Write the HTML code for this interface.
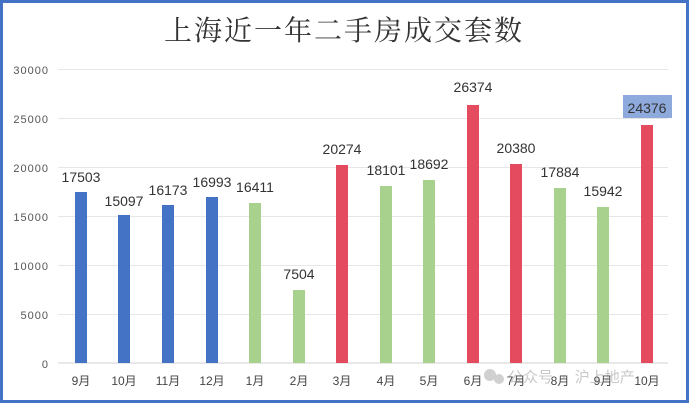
<!DOCTYPE html>
<html><head><meta charset="utf-8"><style>
html,body{margin:0;padding:0;background:#fff}
svg{display:block}
</style></head><body>
<svg width="689" height="403" viewBox="0 0 689 403" xmlns="http://www.w3.org/2000/svg">
<rect x="1.5" y="1.5" width="686" height="400" fill="#fff" stroke="#4472C4" stroke-width="3"/>
<text x="344" y="40" text-anchor="middle" font-family="'Noto Serif CJK SC','Liberation Serif',serif" font-size="28" fill="#333" letter-spacing="2">上海近一年二手房成交套数</text>
<g stroke="#e6e6e6" stroke-width="1">
<line x1="58" x2="668" y1="69.5" y2="69.5"/>
<line x1="58" x2="668" y1="118.5" y2="118.5"/>
<line x1="58" x2="668" y1="167.5" y2="167.5"/>
<line x1="58" x2="668" y1="216.5" y2="216.5"/>
<line x1="58" x2="668" y1="265.5" y2="265.5"/>
<line x1="58" x2="668" y1="314.5" y2="314.5"/>
</g>
<line x1="58" x2="668" y1="363" y2="363" stroke="#d0d0d0"/>
<g font-family="'Liberation Sans',sans-serif" font-size="11" fill="#555" text-anchor="end" letter-spacing="1">
<text x="49" y="74">30000</text><text x="49" y="123">25000</text><text x="49" y="172">20000</text>
<text x="49" y="221">15000</text><text x="49" y="270">10000</text><text x="49" y="319">5000</text><text x="49" y="368">0</text>
</g>
<g id="bars"></g>
<rect x="623" y="95" width="49" height="23" fill="#8EA9DB"/>
<g font-family="'Liberation Sans',sans-serif" font-size="14" fill="#333" text-anchor="middle">
<!-- labels inserted below -->
<rect x="75" y="192" width="12" height="171" fill="#4472C4"/><text x="81" y="182">17503</text>
<rect x="118" y="215" width="12" height="148" fill="#4472C4"/><text x="124" y="206">15097</text>
<rect x="162" y="205" width="12" height="158" fill="#4472C4"/><text x="168" y="195">16173</text>
<rect x="206" y="197" width="12" height="166" fill="#4472C4"/><text x="212" y="187">16993</text>
<rect x="249" y="203" width="12" height="160" fill="#A9D18E"/><text x="255" y="192">16411</text>
<rect x="293" y="290" width="12" height="73" fill="#A9D18E"/><text x="299" y="279">7504</text>
<rect x="336" y="165" width="12" height="198" fill="#E54B5E"/><text x="342" y="154">20274</text>
<rect x="380" y="186" width="12" height="177" fill="#A9D18E"/><text x="386" y="175">18101</text>
<rect x="423" y="180" width="12" height="183" fill="#A9D18E"/><text x="429" y="169">18692</text>
<rect x="467" y="105" width="12" height="258" fill="#E54B5E"/><text x="473" y="92">26374</text>
<rect x="510" y="164" width="12" height="199" fill="#E54B5E"/><text x="516" y="153">20380</text>
<rect x="554" y="188" width="12" height="175" fill="#A9D18E"/><text x="560" y="177">17884</text>
<rect x="597" y="207" width="12" height="156" fill="#A9D18E"/><text x="603" y="196">15942</text>
<rect x="641" y="125" width="12" height="238" fill="#E54B5E"/><text x="647" y="113">24376</text>
</g>
<g font-family="'Liberation Sans','Noto Sans CJK SC',sans-serif" font-size="12" fill="#444" text-anchor="middle">
<text x="81" y="385">9月</text><text x="124" y="385">10月</text><text x="168" y="385">11月</text><text x="212" y="385">12月</text>
<text x="255" y="385">1月</text><text x="299" y="385">2月</text><text x="342" y="385">3月</text><text x="386" y="385">4月</text>
<text x="429" y="385">5月</text><text x="473" y="385">6月</text><text x="516" y="385">7月</text><text x="560" y="385">8月</text>
<text x="603" y="385">9月</text><text x="647" y="385">10月</text>
</g>
<g opacity="0.45" font-family="'Noto Sans CJK SC',sans-serif" font-size="15" fill="#888">
<circle cx="490" cy="375" r="6" fill="#999"/><circle cx="499" cy="379" r="5" fill="#999"/>
<text x="508" y="382">公众号 · 沪上地产</text>
</g>
</svg>
</body></html>
